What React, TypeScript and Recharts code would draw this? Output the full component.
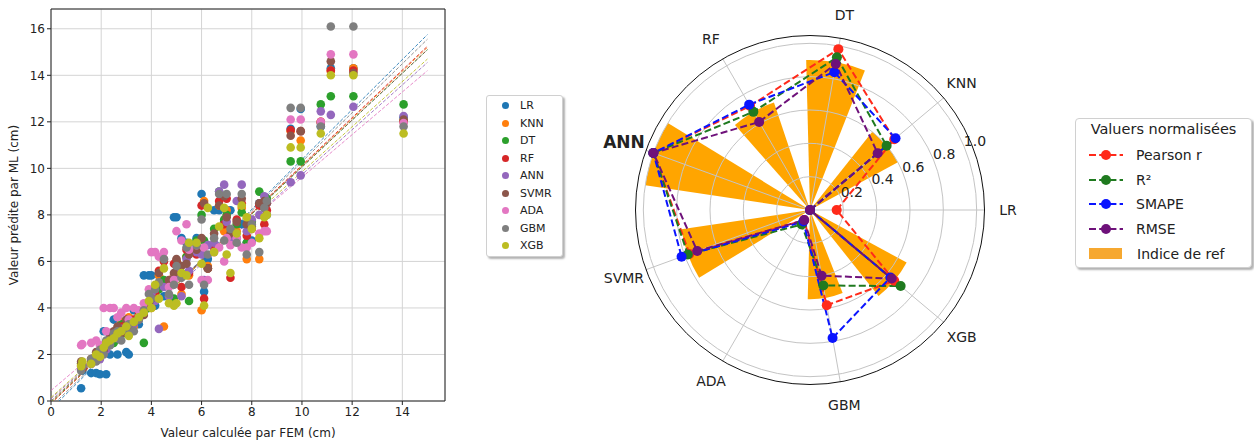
import {
  ScatterChart, Scatter, XAxis, YAxis, CartesianGrid, ReferenceLine, ReferenceArea,
  RadarChart, Radar, PolarGrid, PolarAngleAxis, PolarRadiusAxis, Sector,
} from "recharts"

const FONT = "'DejaVu Sans', 'Liberation Sans', sans-serif"

// ---- scatter: FEM vs ML predictions ----
const models = ["LR", "KNN", "DT", "RF", "ANN", "SVMR", "ADA", "GBM", "XGB"]
const modelColors = ["#1f77b4", "#ff7f0e", "#2ca02c", "#d62728", "#9467bd", "#8c564b", "#e377c2", "#7f7f7f", "#bcbd22"]

const fem = [1.2, 1.25, 1.6, 1.8, 1.95, 2.1, 2.2, 2.35, 2.5, 2.65, 2.8, 3.0, 3.1, 3.3, 3.5, 3.7, 3.9, 4.0, 4.15, 4.3, 4.5, 4.7, 4.9, 5.0, 5.2, 5.4, 5.5, 5.8, 6.0, 6.1, 6.25, 6.5, 6.7, 6.9, 7.0, 7.15, 7.4, 7.6, 7.8, 8.0, 8.3, 8.5, 8.6, 9.55, 9.95, 10.75, 11.15, 12.05, 14.05]

const predLR = [0.55, 1.3, 1.2, 1.2, 1.15, 3.0, 1.15, 2.0, 3.5, 2.0, 3.4, 2.1, 2.0, 3.9, 3.3, 5.4, 5.4, 5.4, 4.1, 5.4, 4.5, 5.0, 7.9, 7.9, 7.0, 6.8, 6.5, 7.0, 8.9, 4.7, 6.1, 8.2, 8.2, 7.7, 8.2, 8.2, 7.0, 7.6, 6.8, 6.9, 8.5, 8.3, 8.0, 11.7, 12.55, 11.8, 14.3, 14.3, 12.2]
const predKNN = [1.6, 1.5, 1.6, 1.9, 2.0, 2.1, 2.4, 2.5, 2.7, 3.1, 3.4, 3.0, 3.6, 3.2, 3.7, 3.9, 4.1, 4.0, 4.7, 5.4, 3.2, 5.0, 5.4, 6.0, 4.6, 6.2, 5.4, 6.4, 3.9, 8.6, 5.8, 6.6, 8.4, 7.3, 8.2, 7.0, 7.3, 8.3, 6.1, 7.7, 6.1, 8.4, 8.6, 11.6, 11.2, 12.0, 14.2, 14.3, 12.05]
const predDT = [1.6, 1.4, 1.8, 2.0, 2.1, 2.3, 2.5, 2.6, 2.5, 3.0, 3.3, 2.9, 3.2, 3.4, 3.6, 2.5, 4.0, 4.3, 4.6, 4.8, 5.2, 5.0, 4.4, 6.0, 5.5, 6.2, 4.3, 6.9, 8.0, 6.9, 5.7, 7.4, 9.0, 7.8, 8.0, 7.1, 7.6, 8.1, 6.8, 7.7, 9.0, 8.5, 8.7, 10.3, 10.3, 12.75, 13.1, 13.1, 12.75]
const predRF = [1.5, 1.4, 1.8, 2.0, 2.1, 2.2, 2.4, 2.6, 2.8, 3.0, 3.2, 3.3, 3.2, 3.5, 3.7, 3.9, 4.2, 4.3, 4.6, 5.6, 6.0, 5.0, 5.9, 6.0, 4.9, 6.5, 5.5, 6.3, 8.4, 4.4, 5.7, 6.6, 8.6, 7.6, 8.7, 5.3, 7.8, 8.5, 7.1, 7.4, 8.4, 7.6, 8.2, 11.65, 11.6, 12.0, 14.2, 14.2, 12.0]
const predANN = [1.4, 1.5, 1.6, 1.9, 1.8, 2.3, 2.2, 2.5, 2.8, 2.7, 3.1, 3.0, 3.4, 3.3, 3.6, 3.8, 4.1, 4.6, 4.3, 3.1, 4.9, 4.5, 5.3, 5.6, 4.5, 6.1, 5.6, 6.4, 6.3, 5.2, 6.7, 6.8, 9.0, 9.3, 7.7, 7.0, 8.6, 9.3, 7.3, 7.8, 8.0, 8.8, 8.5, 9.4, 9.7, 12.45, 12.3, 12.65, 12.25]
const predSVMR = [1.7, 1.6, 1.7, 2.1, 2.0, 2.2, 2.5, 2.8, 3.0, 3.2, 2.9, 3.5, 3.3, 3.4, 3.5, 3.7, 4.2, 4.4, 4.9, 5.5, 6.1, 5.2, 5.5, 6.1, 5.8, 5.9, 6.3, 6.5, 7.0, 8.5, 5.7, 7.2, 8.4, 8.8, 7.9, 7.2, 7.7, 8.7, 7.6, 7.5, 8.5, 8.6, 8.5, 11.4, 11.6, 11.95, 14.6, 14.1, 12.1]
const predADA = [2.4, 2.45, 2.5, 2.6, 2.4, 4.0, 3.0, 4.0, 4.0, 3.6, 3.8, 4.0, 3.5, 4.0, 3.9, 4.2, 4.8, 6.4, 6.4, 6.2, 6.4, 4.9, 5.2, 7.3, 6.9, 7.6, 6.5, 6.7, 5.2, 6.6, 5.2, 6.4, 6.6, 6.0, 7.0, 6.7, 7.0, 6.6, 6.6, 6.8, 7.2, 7.3, 7.3, 12.1, 12.1, 12.0, 14.9, 14.9, 11.95]
const predGBM = [1.3, 1.5, 1.8, 1.7, 2.2, 2.0, 2.6, 2.4, 2.9, 3.0, 2.6, 3.1, 3.3, 3.0, 3.5, 3.9, 4.6, 4.4, 4.8, 5.1, 6.1, 4.6, 5.0, 5.8, 5.3, 6.6, 5.0, 6.7, 7.8, 5.0, 6.3, 7.0, 8.9, 6.9, 8.9, 7.4, 6.8, 8.9, 6.3, 7.6, 6.4, 8.3, 8.6, 12.6, 12.6, 11.8, 16.1, 16.1, 11.8]
const predXGB = [1.5, 1.7, 1.6, 2.0, 1.9, 2.3, 2.5, 2.6, 2.7, 2.9, 3.0, 3.2, 2.8, 3.4, 3.6, 3.8, 4.3, 4.0, 5.0, 4.4, 5.7, 4.2, 4.1, 4.2, 5.5, 5.4, 6.8, 6.8, 5.9, 4.1, 8.3, 6.4, 7.5, 8.3, 6.3, 5.5, 7.2, 8.4, 7.9, 7.4, 7.0, 7.9, 8.0, 10.9, 10.9, 11.5, 14.0, 14.0, 11.5]
const predictions = [predLR, predKNN, predDT, predRF, predANN, predSVMR, predADA, predGBM, predXGB]

// fitted lines: predicted value at FEM = 0 and at FEM = 15
const fitStart = [-0.35, -0.1, -0.05, -0.1, 0.1, 0.0, 0.45, -0.25, 0.15]
const fitEnd = [15.75, 15.2, 15.1, 15.25, 14.55, 15.1, 14.2, 15.55, 14.7]
const fitX = [0, 15]

const xTicks = [0, 2, 4, 6, 8, 10, 12, 14]
const yTicks = [0, 2, 4, 6, 8, 10, 12, 14, 16]
const xMax = 15.7
const yMax = 16.85

// ---- polar: normalised metrics ----
const radarLabels = ["LR", "KNN", "DT", "RF", "ANN", "SVMR", "ADA", "GBM", "XGB"]
const pearson = [0.16, 0.66, 0.98, 0.72, 1.0, 0.77, 0.07, 0.58, 0.66]
const r2 = [0, 0.6, 0.93, 0.68, 1.0, 0.78, 0.1, 0.46, 0.71]
const smape = [0, 0.67, 0.84, 0.73, 1.0, 0.82, 0.08, 0.78, 0.63]
const rmse = [0, 0.53, 0.89, 0.61, 1.0, 0.72, 0.07, 0.4, 0.64]
const refIndex = [0, 0.6, 0.9, 0.68, 1.0, 0.78, 0, 0.535, 0.66]
const rTicks = [0.2, 0.4, 0.6, 0.8, 1.0]
const rMax = 1.05
const barHalfWidth = 11.46 // degrees (bar width 0.4 rad)

const metricNames = ["Pearson r", "R²", "SMAPE", "RMSE"]
const metricKeys = ["pearson", "r2", "smape", "rmse"]
const metricColors = ["#ff2a1a", "#1f7a1f", "#0a14ff", "#6e117a"]

const polarData = radarLabels.map((name, i) => ({
  name,
  pearson: pearson[i],
  r2: r2[i],
  smape: smape[i],
  rmse: rmse[i],
  ref: refIndex[i],
}))

const PCX = 210
const PCY = 210
const PR = 175
// axis ticks and radar points land 80° apart for the same startAngle,
// so the grid/labels and the data layers use different start angles
const GRID_START = 40
const DATA_START = -40

const angleTick = (p: any) => {
  const bold = p.payload.value === "ANN"
  return (
    <text x={p.x} y={p.y} textAnchor="middle" dominantBaseline="central" fill="#222"
      fontFamily={FONT} fontSize={bold ? 17 : 14} fontWeight={bold ? 700 : 400}>
      {p.payload.value}
    </text>
  )
}

const radiusTick = (p: any) => (
  <text x={p.x + 11} y={p.y - 5} textAnchor="middle" dominantBaseline="central" fill="#222"
    fontFamily={FONT} fontSize={14}>
    {Number(p.payload.value).toFixed(1)}
  </text>
)

const barShape = (p: any) => (
  <g>
    {(p.points || []).map((pt: any, i: number) => (
      pt.radius > 0 ? (
        <Sector key={i} cx={pt.cx} cy={pt.cy} innerRadius={0} outerRadius={pt.radius}
          startAngle={pt.angle - barHalfWidth} endAngle={pt.angle + barHalfWidth} fill="#ffa500" stroke="none" />
      ) : null
    ))}
  </g>
)

const tickStyle = { fontSize: 12, fill: "#222", fontFamily: FONT }
const layer = { position: "absolute" as const, left: 600, top: 0 }

export default function App() {
  return (
    <div style={{ position: "absolute", left: 0, top: 0, width: 1254, height: 440, background: "#fff", fontFamily: FONT }}>
      <div style={{ position: "absolute", left: 0, top: 0 }}>
        <ScatterChart width={460} height={440} margin={{ top: 9, right: 15, bottom: 0, left: 0 }}>
          <CartesianGrid stroke="#d4d4d4" strokeWidth={1} />
          <XAxis type="number" dataKey="x" domain={[0, xMax]} ticks={xTicks} allowDataOverflow
            height={39} tick={tickStyle} tickSize={4} axisLine={false} tickLine={{ stroke: "#222" }}
            label={{ value: "Valeur calculée par FEM (cm)", position: "insideBottom", offset: 3, style: { fontSize: 12, fill: "#222", fontFamily: FONT } }} />
          <YAxis type="number" dataKey="y" domain={[0, yMax]} ticks={yTicks} allowDataOverflow
            width={51} tick={tickStyle} tickSize={4} axisLine={false} tickLine={{ stroke: "#222" }}
            label={{ value: "Valeur prédite par ML (cm)", angle: -90, position: "insideLeft", offset: 14, style: { fontSize: 12, fill: "#222", fontFamily: FONT, textAnchor: "middle" } }} />
          {models.map((m, k) => (
            <Scatter key={m} name={m} isAnimationActive={false}
              data={fem.map((x, i) => ({ x, y: predictions[k][i] }))}
              fill={modelColors[k]}
              shape={(p: any) => <circle cx={p.cx} cy={p.cy} r={4.3} fill={modelColors[k]} />} />
          ))}
          {models.map((m, k) => (
            <ReferenceLine key={"fit" + m} ifOverflow="hidden"
              segment={[{ x: fitX[0], y: fitStart[k] }, { x: fitX[1], y: fitEnd[k] }]}
              stroke={modelColors[k]} strokeWidth={1} strokeDasharray="3.5 1.8" strokeOpacity={0.85} />
          ))}
          <ReferenceArea x1={0} x2={xMax} y1={0} y2={yMax} fill="none" fillOpacity={0} stroke="#222" strokeWidth={1} />
        </ScatterChart>
      </div>

      <div style={{ position: "absolute", left: 486, top: 95, width: 77, height: 162, boxSizing: "border-box",
        border: "1px solid #d0d0d0", borderRadius: 3, boxShadow: "2px 2px 2px rgba(0,0,0,0.3)", background: "#fff" }}>
        {models.map((m, k) => (
          <div key={m} style={{ position: "absolute", left: 0, top: 1 + k * 17.5, height: 17.5, display: "flex", alignItems: "center", fontSize: 11, color: "#222" }}>
            <span style={{ display: "inline-block", width: 7, height: 7, borderRadius: "50%", background: modelColors[k], marginLeft: 15, marginRight: 11 }} />
            {m}
          </div>
        ))}
      </div>

      {/* orange reference bars, under the grid */}
      <div style={layer}>
        <RadarChart width={420} height={440} data={polarData} cx={PCX} cy={PCY} outerRadius={PR} startAngle={DATA_START} endAngle={DATA_START + 360}>
          <PolarAngleAxis dataKey="name" tick={false} tickLine={false} axisLine={false} />
          <PolarRadiusAxis type="number" domain={[0, rMax]} allowDataOverflow tick={false} axisLine={false} tickLine={false} />
          <Radar dataKey="ref" isAnimationActive={false} shape={barShape} />
        </RadarChart>
      </div>

      {/* grid, angle labels, radial labels */}
      <div style={layer}>
        <RadarChart width={420} height={440} data={polarData} cx={PCX} cy={PCY} outerRadius={PR} startAngle={GRID_START} endAngle={GRID_START + 360}>
          <PolarGrid gridType="circle" stroke="#c4c4c4" strokeWidth={1} />
          <PolarAngleAxis dataKey="name" tick={angleTick} tickSize={23} tickLine={false} axisLine={false} />
          <PolarRadiusAxis type="number" domain={[0, rMax]} ticks={rTicks} allowDataOverflow angle={22.5}
            tick={radiusTick} axisLine={false} tickLine={false} />
        </RadarChart>
      </div>

      <div style={{ position: "absolute", left: 600 + PCX - PR, top: PCY - PR, width: PR * 2, height: PR * 2,
        boxSizing: "border-box", border: "1.2px solid #111", borderRadius: "50%" }} />

      {/* metric lines */}
      <div style={layer}>
        <RadarChart width={420} height={440} data={polarData} cx={PCX} cy={PCY} outerRadius={PR} startAngle={DATA_START} endAngle={DATA_START + 360}>
          <PolarAngleAxis dataKey="name" tick={false} tickLine={false} axisLine={false} />
          <PolarRadiusAxis type="number" domain={[0, rMax]} allowDataOverflow tick={false} axisLine={false} tickLine={false} />
          {metricKeys.map((key, k) => (
            <Radar key={key} dataKey={key} stroke={metricColors[k]} strokeWidth={2} strokeDasharray="7 3.2"
              fill="none" fillOpacity={0} isAnimationActive={false}
              dot={(p: any) => <circle key={p.key ?? p.index} cx={p.cx} cy={p.cy} r={5} fill={metricColors[k]} />} />
          ))}
        </RadarChart>
      </div>

      <div style={{ position: "absolute", left: 1075, top: 118, width: 177, height: 150, boxSizing: "border-box",
        border: "1px solid #d0d0d0", borderRadius: 4, boxShadow: "2px 2px 2px rgba(0,0,0,0.3)", background: "#fff", color: "#222" }}>
        <div style={{ position: "absolute", left: 0, width: 175, top: 2, textAlign: "center", fontSize: 14.5 }}>Valuers normalisées</div>
        {metricNames.map((name, k) => (
          <div key={name} style={{ position: "absolute", left: 12, top: 24 + k * 24.7, height: 24, display: "flex", alignItems: "center", fontSize: 14 }}>
            <svg width={36} height={12} style={{ marginRight: 12 }}>
              <line x1={1} y1={6} x2={35} y2={6} stroke={metricColors[k]} strokeWidth={2} strokeDasharray="7 3.2" />
              <circle cx={18} cy={6} r={5} fill={metricColors[k]} />
            </svg>
            {name}
          </div>
        ))}
        <div style={{ position: "absolute", left: 12, top: 24 + 4 * 24.7, height: 24, display: "flex", alignItems: "center", fontSize: 14 }}>
          <span style={{ display: "inline-block", width: 33, height: 11, background: "#f6a830", marginRight: 15, marginLeft: 1 }} />
          Indice de ref
        </div>
      </div>
    </div>
  )
}
